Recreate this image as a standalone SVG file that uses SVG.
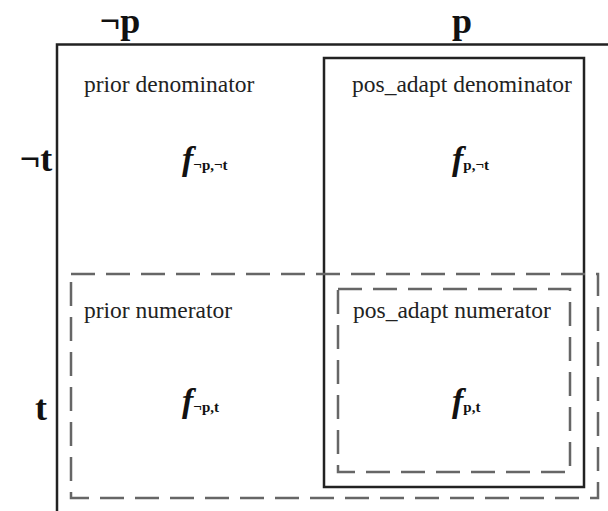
<svg xmlns="http://www.w3.org/2000/svg" width="608" height="511" viewBox="0 0 608 511">
<style>
.hd{font-family:"Liberation Serif","Times New Roman",serif;font-weight:bold;font-size:36px;fill:#111}
.lb{font-family:"Liberation Serif","Times New Roman",serif;font-size:23.5px;fill:#222}
.f{font-family:"Liberation Serif","Times New Roman",serif;font-weight:bold;font-style:italic;font-size:34px;fill:#111}
.sub{font-family:"Liberation Serif","Times New Roman",serif;font-weight:bold;font-size:15px;fill:#111}
.solid{fill:none;stroke:#222;stroke-width:2.5}
.dash{fill:none;stroke:#666;stroke-width:2.5;stroke-dasharray:24 11}
</style>
<rect width="608" height="511" fill="#fff"/>
<g id="headers">
<text class="hd" x="120" y="33" text-anchor="middle">¬p</text>
<text class="hd" x="462" y="33" text-anchor="middle">p</text>
<text class="hd" x="36" y="171" text-anchor="middle">¬t</text>
<text class="hd" x="41" y="420" text-anchor="middle">t</text>
</g>
<g id="connectors">
<path class="solid" d="M57,520 V44.5 H620"/>
</g>
<g id="pos_adapt_denominator">
<rect class="solid" x="324" y="58" width="260" height="429"/>
<text class="lb" x="352" y="92">pos_adapt denominator</text>
</g>
<g id="prior_numerator">
<rect class="dash" x="71" y="274" width="527" height="224"/>
<text class="lb" x="84" y="318">prior numerator</text>
</g>
<g id="pos_adapt_numerator">
<rect class="dash" x="338" y="289" width="232" height="183"/>
<text class="lb" x="353" y="318">pos_adapt numerator</text>
</g>
<g id="prior_denominator">
<text class="lb" x="84" y="92">prior denominator</text>
</g>
<g id="cells">
<text x="182" y="170"><tspan class="f">f</tspan><tspan class="sub">¬p,¬t</tspan></text>
<text x="452" y="170"><tspan class="f">f</tspan><tspan class="sub">p,¬t</tspan></text>
<text x="182" y="412"><tspan class="f">f</tspan><tspan class="sub">¬p,t</tspan></text>
<text x="452" y="412"><tspan class="f">f</tspan><tspan class="sub">p,t</tspan></text>
</g>
</svg>
